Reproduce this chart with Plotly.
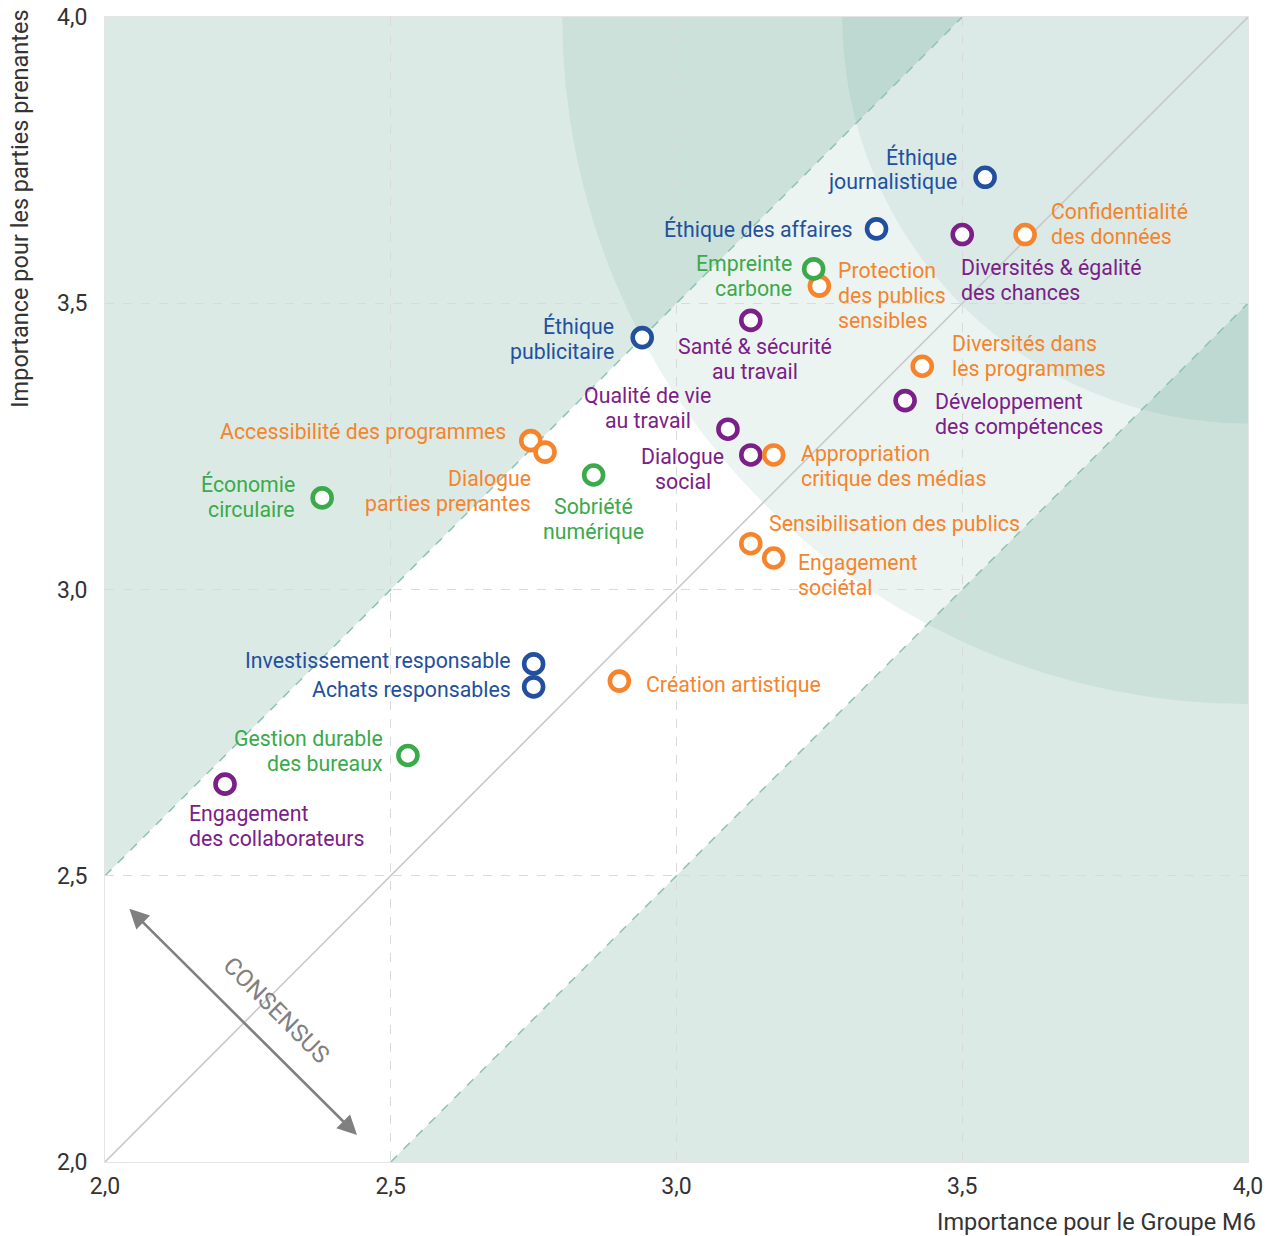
import plotly.graph_objects as go

# ---------------- data ----------------
names = [
    "Éthique\njournalistique", "Éthique des affaires", "Diversités & égalité\ndes chances",
    "Confidentialité\ndes données", "Empreinte\ncarbone", "Protection\ndes publics\nsensibles",
    "Santé & sécurité\nau travail", "Éthique\npublicitaire", "Diversités dans\nles programmes",
    "Développement\ndes compétences", "Qualité de vie\nau travail", "Dialogue\nsocial",
    "Appropriation\ncritique des médias", "Accessibilité des programmes", "Dialogue\nparties prenantes",
    "Sobriété\nnumérique", "Économie\ncirculaire", "Sensibilisation des publics",
    "Engagement\nsociétal", "Investissement responsable", "Achats responsables",
    "Création artistique", "Gestion durable\ndes bureaux", "Engagement\ndes collaborateurs",
]
importance_m6 = [3.54, 3.35, 3.50, 3.61, 3.24, 3.25, 3.13, 2.94, 3.43, 3.40, 3.09, 3.13,
                 3.17, 2.745, 2.77, 2.855, 2.38, 3.13, 3.17, 2.75, 2.75, 2.90, 2.53, 2.21]
importance_pp = [3.72, 3.63, 3.62, 3.62, 3.56, 3.53, 3.47, 3.44, 3.39, 3.33, 3.28, 3.235,
                 3.235, 3.26, 3.24, 3.20, 3.16, 3.08, 3.055, 2.87, 2.83, 2.84, 2.71, 2.66]
groups = ["gouv", "gouv", "social", "societal", "env", "societal", "social", "gouv", "societal",
          "social", "social", "social", "societal", "societal", "societal", "env", "env",
          "societal", "societal", "gouv", "gouv", "societal", "env", "social"]
tick_vals = [2.0, 2.5, 3.0, 3.5, 4.0]
tick_text = ["2,0", "2,5", "3,0", "3,5", "4,0"]

# ---------------- styles / label placement ----------------
colors = {"gouv": "#23509e", "social": "#7a2088", "societal": "#f5842c", "env": "#3aaa4a"}
# (dx px of anchor edge, dy px of first line centre at 22px leading, anchor)
label_pos = [
    (-27, -19, "right"), (-24, 0, "right"), (-2, 34, "left"), (25, -22, "left"),
    (-21, -4, "right"), (18, -13, "left"), (4, 28, "center"), (-27, -10, "right"),
    (29, -21, "left"), (29, 2, "left"), (-80, -32, "center"), (-68, 3, "center"),
    (26, 0, "left"), (-24, -9, "right"), (-13, 28, "right"), (0, 33, "center"),
    (-26, -12, "right"), (17, -20, "left"), (23, 6, "left"), (-22, -3, "right"),
    (-22, 3, "right"), (26, 3, "left"), (-24, -16, "right"), (-37, 31, "left"),
]
REF_LINE_H = 22
LINE_H = 25
FONT = "Roboto"
LABEL_SIZE = 21.3
band = 0.5
r_outer, r_inner = 1.2, 0.71

fig = go.Figure()

# background zones
shapes = [
    dict(type="path", path=f"M 2,{2+band} L 2,4 L {4-band},4 Z", fillcolor="#dceae5",
         line=dict(width=0), layer="below", xref="x", yref="y"),
    dict(type="path", path=f"M {2+band},2 L 4,2 L 4,{4-band} Z", fillcolor="#dceae5",
         line=dict(width=0), layer="below", xref="x", yref="y"),
]
for r in (r_outer, r_inner):
    shapes.append(dict(type="circle", x0=4 - r, y0=4 - r, x1=4 + r, y1=4 + r,
                       fillcolor="rgba(85,155,135,0.11)", line=dict(width=0),
                       layer="below", xref="x", yref="y"))
shapes += [
    dict(type="line", x0=2, y0=2 + band, x1=4 - band, y1=4, line=dict(color="#8cc4b1", width=1.5, dash="dash"),
         layer="below", xref="x", yref="y"),
    dict(type="line", x0=2 + band, y0=2, x1=4, y1=4 - band, line=dict(color="#8cc4b1", width=1.5, dash="dash"),
         layer="below", xref="x", yref="y"),
    dict(type="line", x0=2, y0=2, x1=4, y1=4, line=dict(color="#c9c9c9", width=1.6),
         layer="below", xref="x", yref="y"),
]

# points
for g in ["gouv", "social", "societal", "env"]:
    idx = [i for i, gg in enumerate(groups) if gg == g]
    fig.add_trace(go.Scatter(
        x=[importance_m6[i] for i in idx], y=[importance_pp[i] for i in idx],
        mode="markers", hoverinfo="skip", showlegend=False,
        marker=dict(size=19, color="white", line=dict(color=colors[g], width=4.6)),
    ))

annotations = []
for i, name in enumerate(names):
    dx, dy, anchor = label_pos[i]
    lines = name.split("\n")
    dy0 = dy + (len(lines) - 1) * (REF_LINE_H - LINE_H) / 2  # keep block centre
    for k, line in enumerate(lines):
        annotations.append(dict(
            x=importance_m6[i], y=importance_pp[i], xref="x", yref="y",
            text=line, showarrow=False, xanchor=anchor, yanchor="middle",
            xshift=dx, yshift=-(dy0 + k * LINE_H), borderpad=0,
            font=dict(family=FONT, size=LABEL_SIZE, color=colors[groups[i]]),
        ))

# consensus arrow
annotations.append(dict(x=2.441, y=2.047, ax=2.040, ay=2.445, xref="x", yref="y",
                        axref="x", ayref="y", text="", showarrow=True,
                        arrowhead=2, startarrowhead=2, arrowside="end+start",
                        arrowsize=1.5, startarrowsize=1.5, arrowwidth=2.6, arrowcolor="#808080"))
annotations.append(dict(x=2.299, y=2.265, xref="x", yref="y", text="CONSENSUS",
                        textangle=45, showarrow=False,
                        font=dict(family=FONT, size=24, color="#808080")))

# axis titles
annotations.append(dict(x=1.009, y=-0.0524, xref="paper", yref="paper",
                        text="Importance pour le Groupe M6", showarrow=False,
                        xanchor="right", yanchor="middle",
                        font=dict(family=FONT, size=23.5, color="#333333")))
annotations.append(dict(x=-0.0744, y=1.008, xref="paper", yref="paper",
                        text="Importance pour les parties prenantes", showarrow=False,
                        textangle=-90, xanchor="center", yanchor="top",
                        font=dict(family=FONT, size=23.5, color="#333333")))

axis_common = dict(range=[2, 4], tickvals=tick_vals, ticktext=tick_text, automargin=False,
                   showgrid=True, gridcolor="#dadada", griddash="dash", gridwidth=1,
                   zeroline=False, showline=True, mirror=True, linecolor="#e4e4e4",
                   linewidth=1, ticks="", tickfont=dict(family=FONT, size=23, color="#333333"))

fig.update_layout(
    width=1272, height=1236,
    margin=dict(l=105, r=24, t=17, b=74),
    plot_bgcolor="white", paper_bgcolor="white",
    shapes=shapes, annotations=annotations,
    xaxis=dict(**axis_common, ticklabelstandoff=3),
    yaxis=dict(**axis_common, ticklabelstandoff=12),
    font=dict(family=FONT),
)

fig.write_html("out.html", config={"displayModeBar": False},
               post_script="document.body.style.margin='0';document.body.style.overflow='hidden';")
